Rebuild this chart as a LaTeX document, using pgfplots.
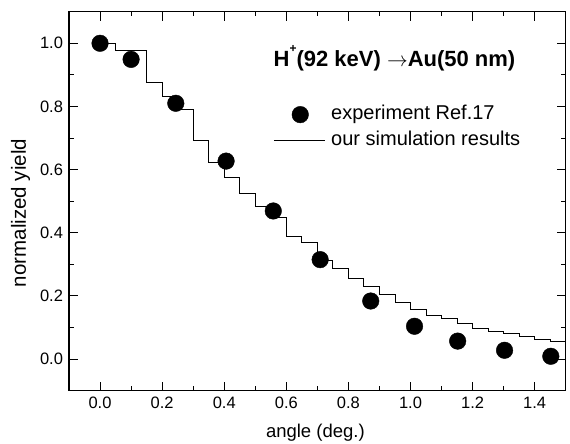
\documentclass[border=0pt]{standalone}
\usepackage{fontspec}
\setmainfont{Liberation Sans}
\usepackage{pgfplots}
\pgfplotsset{compat=1.18}
\begin{document}
\begin{tikzpicture}
\begin{axis}[
  scale only axis,
  width=496.7pt, height=379pt,
  xmin=-0.1, xmax=1.5, ymin=-0.1, ymax=1.1,
  xtick={0,0.2,0.4,0.6,0.8,1.0,1.2,1.4},
  minor xtick={0.1,0.3,0.5,0.7,0.9,1.1,1.3},
  ytick={0,0.2,0.4,0.6,0.8,1.0},
  minor ytick={0.1,0.3,0.5,0.7,0.9},
  tick align=inside,
  major tick length=9pt, minor tick length=4.5pt,
  every tick/.style={black, line width=1pt},
  axis line style={line width=1.3pt},
  /pgf/number format/.cd, fixed, fixed zerofill, precision=1, assume math mode=true,
  /pgfplots/.cd,
  tick label style={font=\fontsize{16.5}{19}\selectfont},
  xticklabel style={yshift=-3pt},
  yticklabel style={xshift=-2.5pt},
  xlabel={angle (deg.)},
  ylabel={normalized yield},
  xlabel style={at={(axis description cs:0.496,0)}, anchor=base, yshift=-47pt, font=\fontsize{18.5}{22}\selectfont},
  ylabel style={at={(axis description cs:-0.087,0.469)}, anchor=base, font=\fontsize{20.5}{24}\selectfont},
  legend style={at={(axis cs:0.5575,0.808)}, anchor=north west, draw=none, fill=none, inner sep=0pt,
    font=\fontsize{20}{24}\selectfont, row sep=5pt, column sep=5pt,
    nodes={inner sep=1pt, font=\fontsize{20}{24}\selectfont, text height=14.5pt, text depth=4.5pt}},
  legend cell align=left,
  clip=false,
]
\addplot[only marks, mark=*, mark size=8.3pt, black,
  legend image code/.code={\path[draw=none] (0pt,0pt) -- (51pt,0pt); \fill[black] (26.5pt,0pt) circle (8.3pt);}]
  coordinates {
  (0.0,1.0) (0.10,0.949) (0.244,0.81) (0.406,0.627) (0.558,0.469)
  (0.709,0.315) (0.872,0.184) (1.013,0.104) (1.152,0.057) (1.303,0.028) (1.452,0.009)
  };
\addlegendentry{experiment Ref.17}
\addplot[const plot, black, line width=0.9pt,
  legend image code/.code={\draw[black, line width=0.9pt] (0pt,0pt) -- (51pt,0pt);}]
  coordinates {
  (0.00,1.0) (0.05,0.976) (0.10,0.976) (0.15,0.876) (0.20,0.831) (0.25,0.791)
  (0.30,0.693) (0.35,0.623) (0.40,0.574) (0.45,0.524) (0.50,0.482) (0.55,0.447)
  (0.60,0.387) (0.65,0.368) (0.70,0.313) (0.75,0.287) (0.80,0.255) (0.85,0.231)
  (0.90,0.205) (0.95,0.178) (1.00,0.157) (1.05,0.139) (1.10,0.128) (1.15,0.112)
  (1.20,0.098) (1.25,0.089) (1.30,0.080) (1.35,0.073) (1.40,0.062) (1.45,0.055)
  (1.50,0.055)
  };
\addlegendentry{our simulation results}
\node[anchor=west, inner sep=0pt, font=\bfseries\fontsize{22}{26}\selectfont] at (axis cs:0.5585,0.953) {H\raisebox{0.62em}{\fontsize{12}{14}\selectfont +}(92 keV) $\rightarrow$Au(50 nm)};
\end{axis}
\pgfresetboundingbox
\path (-69pt,-53.3pt) rectangle (501pt,390.7pt);
\end{tikzpicture}
\end{document}
